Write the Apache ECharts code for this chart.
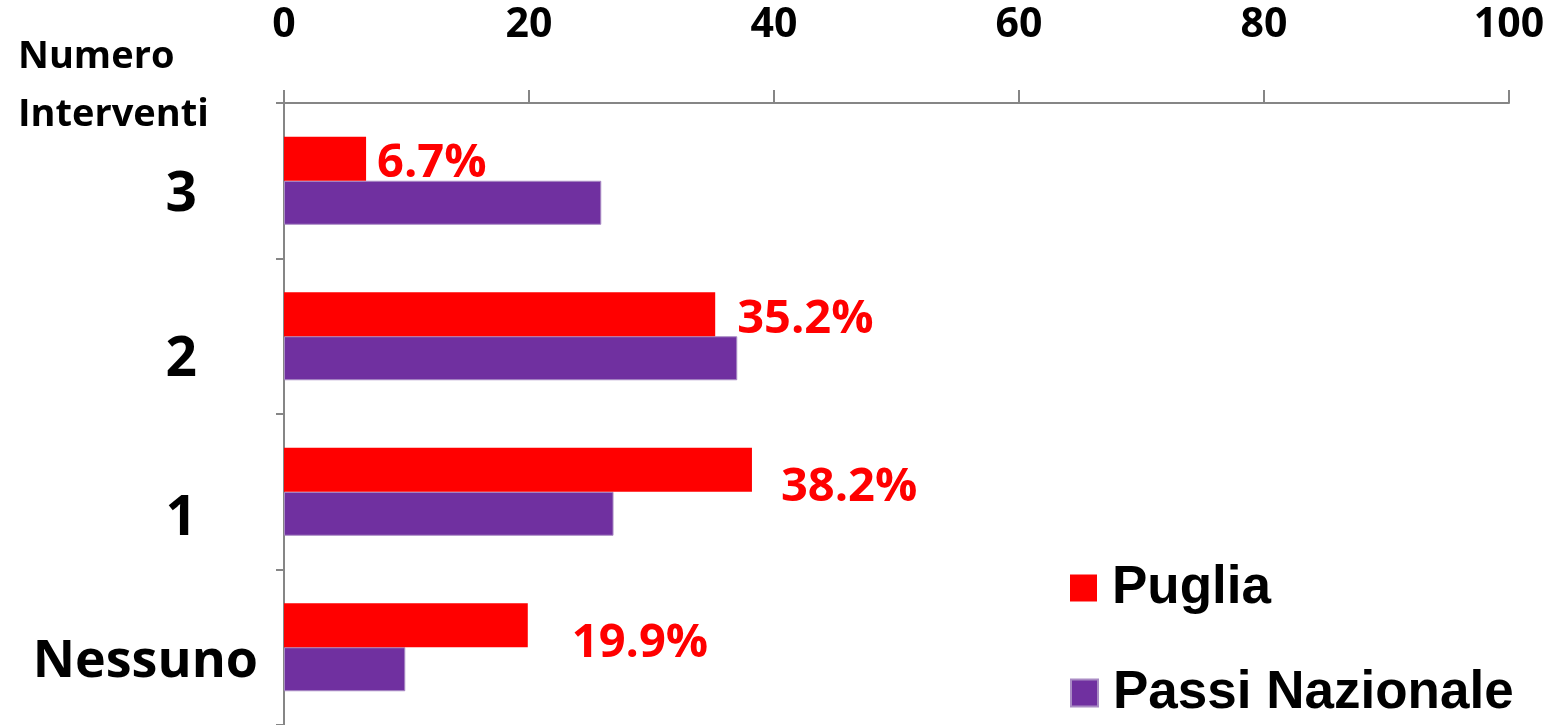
<!DOCTYPE html>
<html>
<head>
<meta charset="utf-8">
<script src="https://cdn.jsdelivr.net/npm/echarts@6/dist/echarts.min.js"></script>
<style>
  html, body { margin: 0; padding: 0; background: #fff; }
  #main { width: 1561px; height: 725px; }
</style>
</head>
<body>
<div id="main"></div>
<script>
// categories bottom -> top
const categorie = ['Nessuno', '1', '2', '3'];
const puglia = [19.9, 38.2, 35.2, 6.7];
const passiNazionale = [9.9, 26.9, 37, 25.9];
const xTicks = [0, 20, 40, 60, 80, 100];
const serieNomi = ['Puglia', 'Passi Nazionale'];

// label nudges (style only), same order as categorie
const labelShift = [[44, 18], [29, 18], [22, 5], [11, 5]];
const catShift = [15, 28, 24, 15];

const chart = echarts.init(document.getElementById('main'), null, { renderer: 'canvas' });

const calibri = '"Open Sans", "Noto Sans", sans-serif';

const rich = {};
categorie.forEach(function (c, i) {
  rich['c' + i] = {
    fontFamily: calibri,
    fontWeight: 'bold',
    fontSize: c === 'Nessuno' ? 52 : 55,
    color: '#000',
    padding: [catShift[i] * 2, c === 'Nessuno' ? 0 : 61, 0, 0]
  };
});

// one legend box per series, stacked
const legendTops = [561, 666];
const legende = serieNomi.map(function (n, i) {
  return {
    orient: 'vertical',
    left: 1070,
    top: legendTops[i],
    padding: 0,
    itemWidth: 27,
    itemHeight: 27,
    icon: 'rect',
    textStyle: {
      fontFamily: '"Liberation Sans", Arial, sans-serif',
      fontWeight: 'bold',
      fontSize: 53,
      lineHeight: 54,
      color: '#000',
      padding: [0, 0, 0, 10]
    },
    data: [n]
  };
});

var option = {
  animation: false,
  title: {
    text: 'Numero\nInterventi',
    left: 18,
    top: 28,
    padding: 0,
    textStyle: {
      fontFamily: calibri,
      fontWeight: 'bold',
      fontSize: 38,
      lineHeight: 58,
      color: '#000'
    }
  },
  legend: legende,
  grid: {
    left: 284,
    right: 52,
    top: 103,
    height: 624
  },
  xAxis: {
    type: 'value',
    position: 'top',
    min: xTicks[0],
    max: xTicks[xTicks.length - 1],
    interval: 20,
    axisLine: { show: true, lineStyle: { color: '#868686', width: 2 } },
    axisTick: { show: true, length: 13, lineStyle: { color: '#868686', width: 2 } },
    splitLine: { show: false },
    axisLabel: {
      margin: 57,
      fontFamily: calibri,
      fontWeight: 'bold',
      fontSize: 41,
      color: '#000'
    }
  },
  yAxis: {
    type: 'category',
    data: categorie,
    axisLine: { show: true, lineStyle: { color: '#868686', width: 2 } },
    axisTick: { show: true, length: 8, lineStyle: { color: '#868686', width: 2 } },
    axisLabel: {
      margin: 26,
      formatter: function (v) {
        return '{c' + categorie.indexOf(v) + '|' + v + '}';
      },
      rich: rich
    }
  },
  series: [
    {
      name: serieNomi[0],
      type: 'bar',
      barWidth: 44,
      barGap: '0%',
      itemStyle: { color: '#FF0000' },
      data: puglia.map(function (v, i) {
        return {
          value: v,
          label: { offset: labelShift[i] }
        };
      }),
      label: {
        show: true,
        position: 'right',
        distance: 0,
        formatter: function (p) { return p.value.toFixed(1) + '%'; },
        fontFamily: calibri,
        fontWeight: 'bold',
        fontSize: 47,
        color: '#FF0000'
      },
      z: 3
    },
    {
      name: serieNomi[1],
      type: 'bar',
      barWidth: 44,
      barGap: '0%',
      itemStyle: { color: '#7030A0', borderColor: '#a98bc4', borderWidth: 1 },
      data: passiNazionale,
      z: 2
    }
  ]
};

chart.setOption(option);
</script>
</body>
</html>
